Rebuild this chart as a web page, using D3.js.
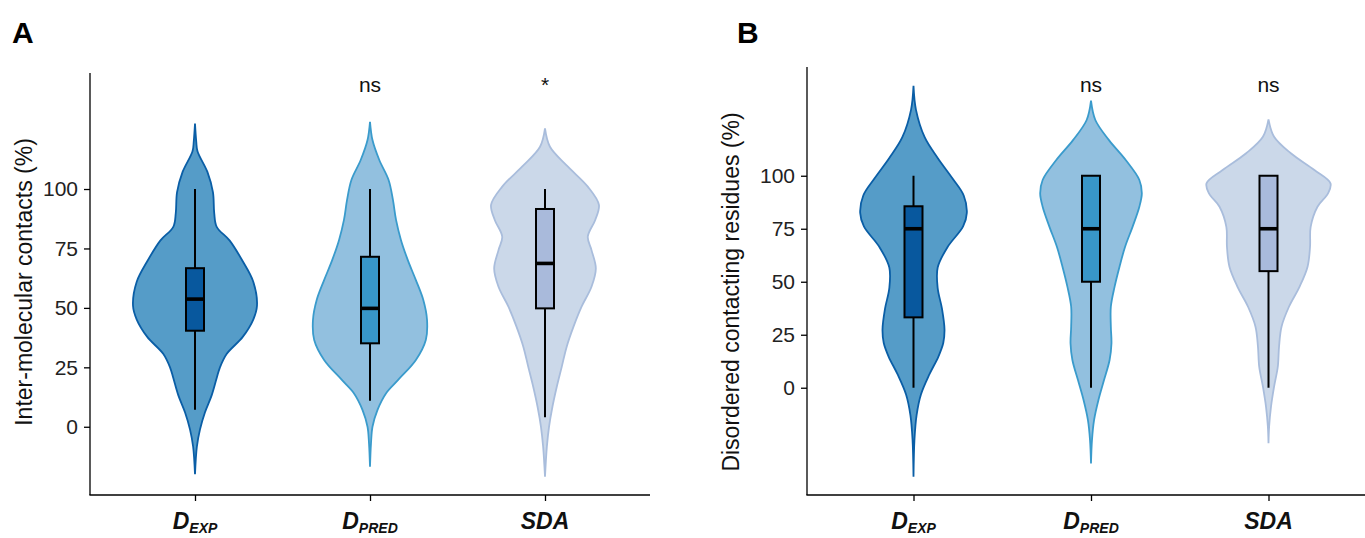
<!DOCTYPE html>
<html>
<head>
<meta charset="utf-8">
<script src="https://cdn.jsdelivr.net/npm/d3@7"></script>
<style>
    body { margin: 0; background: #fff; }
    svg { display: block; font-family: 'Liberation Sans', Arial, sans-serif; }
    .axis path, .axis line { stroke: #000; stroke-width: 1.3px; }
    .axis text { fill: #222; font-size: 21px; }
</style>
</head>
<body>
<div id="chart"></div>
<script>
// categories and labels
var categories = ['DEXP', 'DPRED', 'SDA'];
var catMain = ['D', 'D', 'SDA'];
var catSub = ['EXP', 'PRED', ''];
var yTicks = [0, 25, 50, 75, 100];

// violin outlines: [value, relative half width]
var violinA_DEXP = [[127.5,0],[120,0.02],[115.9,0.04],[107.2,0.2],[98.6,0.29],[89.9,0.31],[84.1,0.35],[78.3,0.56],[69.6,0.77],[61,0.94],[50.9,1.0],[45.1,0.94],[37.8,0.77],[30.6,0.51],[24.8,0.4],[20.5,0.35],[13.3,0.27],[6,0.16],[-1.2,0.08],[-8.4,0.03],[-20,0]];
var violinA_DPRED = [[128.3,0],[120.6,0.04],[112.2,0.15],[103.8,0.3],[95.4,0.37],[87,0.42],[78.5,0.5],[70.1,0.61],[61.7,0.74],[53.3,0.86],[44.9,0.92],[36.5,0.9],[28.1,0.74],[19.6,0.45],[14.1,0.26],[7,0.12],[0,0.04],[-7,0.016],[-16.8,0]];
var violinA_SDA = [[125.5,0],[117.8,0.08],[109.4,0.37],[101,0.69],[93.3,0.87],[87,0.81],[79.9,0.69],[74.3,0.75],[66.6,0.82],[58.9,0.75],[50.5,0.59],[42.1,0.46],[33.7,0.35],[25.2,0.27],[16.8,0.19],[8.4,0.12],[0,0.065],[-8.4,0.03],[-21,0]];

var violinB_DEXP = [[142.4,0],[131.1,0.04],[118.2,0.18],[108.4,0.39],[98.7,0.63],[90.7,0.81],[82.5,0.86],[76.1,0.8],[66.4,0.55],[56.7,0.39],[47,0.39],[37.2,0.46],[27.5,0.5],[21.1,0.48],[14.6,0.4],[6.5,0.26],[-3.2,0.12],[-12.9,0.05],[-24.2,0.016],[-42,0]];
var violinB_DPRED = [[135.4,0],[126.3,0.07],[116.8,0.29],[107.4,0.56],[98,0.78],[91.7,0.82],[85.4,0.78],[75.9,0.67],[66.5,0.55],[57.1,0.46],[47.6,0.38],[38.2,0.32],[28.8,0.32],[20.9,0.33],[13.1,0.3],[3.6,0.21],[-5.8,0.12],[-15.2,0.05],[-24.6,0.016],[-35.7,0]];
var violinB_SDA = [[126.6,0],[118.4,0.09],[110.6,0.36],[102.7,0.74],[96.4,1.0],[91.7,0.96],[85.4,0.79],[75.9,0.68],[66.5,0.67],[57.1,0.63],[47.6,0.5],[38.2,0.33],[28.8,0.21],[19.4,0.17],[9.9,0.15],[0.5,0.09],[-9,0.04],[-18.4,0.01],[-26.2,0]];

// box stats: [lower whisker, q1, median, q3, upper whisker]
var boxA = [[7.2, 40.4, 53.7, 66.7, 100], [10.9, 35.1, 49.8, 71.5, 100], [4.0, 49.8, 68.7, 91.6, 100]];
var boxB = [[0, 33.2, 75, 85.6, 100], [0, 50, 75, 100, 100], [0, 55, 75, 100, 100]];

// significance vs D_EXP
var sigA = ['', 'ns', '*'];
var sigB = ['', 'ns', 'ns'];

var violinFill = ['#559cc8', '#92c0df', '#cbd8e9'];
var violinStroke = ['#0a5ea6', '#3a9bcc', '#a9bddc'];
var boxFill = ['#08589e', '#3896c8', '#a9badb'];

var svg = d3.select('#chart').append('svg')
    .attr('width', 1365)
    .attr('height', 538);

function drawPanel(opt) {
    var x = d3.scalePoint().domain(categories).range([opt.left, opt.right]).padding(0.6),
        y = d3.scaleLinear().domain(opt.ydomain).range([opt.bottom, opt.top]),
        w = d3.scaleLinear().domain([0, 1]).range([0, 62]);

    var g = svg.append('g');

    // violins
    opt.violins.forEach(function(v, i) {
        var cx = x(categories[i]);
        var area = d3.area()
            .y(function(d) { return y(d[0]); })
            .x0(function(d) { return cx - w(d[1]); })
            .x1(function(d) { return cx + w(d[1]); })
            .curve(d3.curveCatmullRom);
        g.append('path')
            .attr('d', area(v))
            .style('fill', violinFill[i])
            .style('stroke', violinStroke[i])
            .style('stroke-width', 1.8);
    });

    // boxplots
    var bw = 18;
    opt.boxes.forEach(function(b, i) {
        var cx = x(categories[i]);
        var bg = g.append('g');
        bg.append('line')
            .attr('x1', cx).attr('x2', cx)
            .attr('y1', y(b[0])).attr('y2', y(b[1]))
            .style('stroke', '#000').style('stroke-width', 2);
        bg.append('line')
            .attr('x1', cx).attr('x2', cx)
            .attr('y1', y(b[3])).attr('y2', y(b[4]))
            .style('stroke', '#000').style('stroke-width', 2);
        bg.append('rect')
            .attr('x', cx - bw / 2)
            .attr('width', bw)
            .attr('y', y(b[3]))
            .attr('height', y(b[1]) - y(b[3]))
            .style('fill', boxFill[i])
            .style('stroke', '#000')
            .style('stroke-width', 2);
        bg.append('line')
            .attr('x1', cx - bw / 2).attr('x2', cx + bw / 2)
            .attr('y1', y(b[2])).attr('y2', y(b[2]))
            .style('stroke', '#000').style('stroke-width', 3.6);
    });

    // significance labels
    g.selectAll('.sig')
        .data(opt.sig)
        .enter().append('text')
        .attr('class', 'sig')
        .attr('x', function(d, i) { return x(categories[i]); })
        .attr('y', y(opt.sigAt))
        .attr('text-anchor', 'middle')
        .style('font-size', '21px')
        .style('fill', '#111')
        .text(function(d) { return d; });

    // axes
    g.append('g')
        .attr('class', 'axis')
        .attr('transform', 'translate(' + opt.left + ',0)')
        .call(d3.axisLeft(y).tickValues(yTicks).tickSize(6).tickPadding(6).tickSizeOuter(0))
        .call(function(a) { a.select('.domain').attr('d', 'M0,' + opt.top + 'V' + opt.bottom); });

    var xa = g.append('g')
        .attr('class', 'axis')
        .attr('transform', 'translate(0,' + opt.bottom + ')')
        .call(d3.axisBottom(x).tickSize(6).tickSizeOuter(0).tickFormat(''));
    xa.select('.domain').attr('d', 'M' + (opt.left - 0.6) + ',0H' + opt.right);

    var lab = g.selectAll('.xlab')
        .data(categories)
        .enter().append('text')
        .attr('class', 'xlab')
        .attr('x', function(d) { return x(d); })
        .attr('y', opt.bottom + 34)
        .attr('text-anchor', 'middle')
        .style('font-weight', 'bold')
        .style('font-style', 'italic')
        .style('fill', '#111');
    lab.append('tspan')
        .style('font-size', '23px')
        .text(function(d, i) { return catMain[i]; });
    lab.append('tspan')
        .attr('dy', 4)
        .style('font-size', '14px')
        .text(function(d, i) { return catSub[i]; });

    // y title
    svg.append('text')
        .attr('transform', 'translate(' + opt.titleX + ',' + opt.titleY + ') rotate(-90)')
        .attr('text-anchor', 'middle')
        .attr('dy', '0.35em')
        .style('font-size', '23px')
        .style('fill', '#111')
        .text(opt.ytitle);

    // panel letter
    svg.append('text')
        .attr('x', opt.letterX)
        .attr('y', 43)
        .style('font-size', '30px')
        .style('font-weight', 'bold')
        .text(opt.letter);
}

drawPanel({
    left: 90, right: 650, top: 73, bottom: 495,
    ydomain: [-28.7, 148.8],
    violins: [violinA_DEXP, violinA_DPRED, violinA_SDA],
    boxes: boxA,
    sig: sigA, sigAt: 141,
    ytitle: 'Inter-molecular contacts (%)',
    titleX: 24, titleY: 282,
    letter: 'A', letterX: 12
});

drawPanel({
    left: 807, right: 1375, top: 67, bottom: 495,
    ydomain: [-50.6, 151.3],
    violins: [violinB_DEXP, violinB_DPRED, violinB_SDA],
    boxes: boxB,
    sig: sigB, sigAt: 139.5,
    ytitle: 'Disordered contacting residues (%)',
    titleX: 731, titleY: 292,
    letter: 'B', letterX: 737
});
</script>
</body>
</html>
